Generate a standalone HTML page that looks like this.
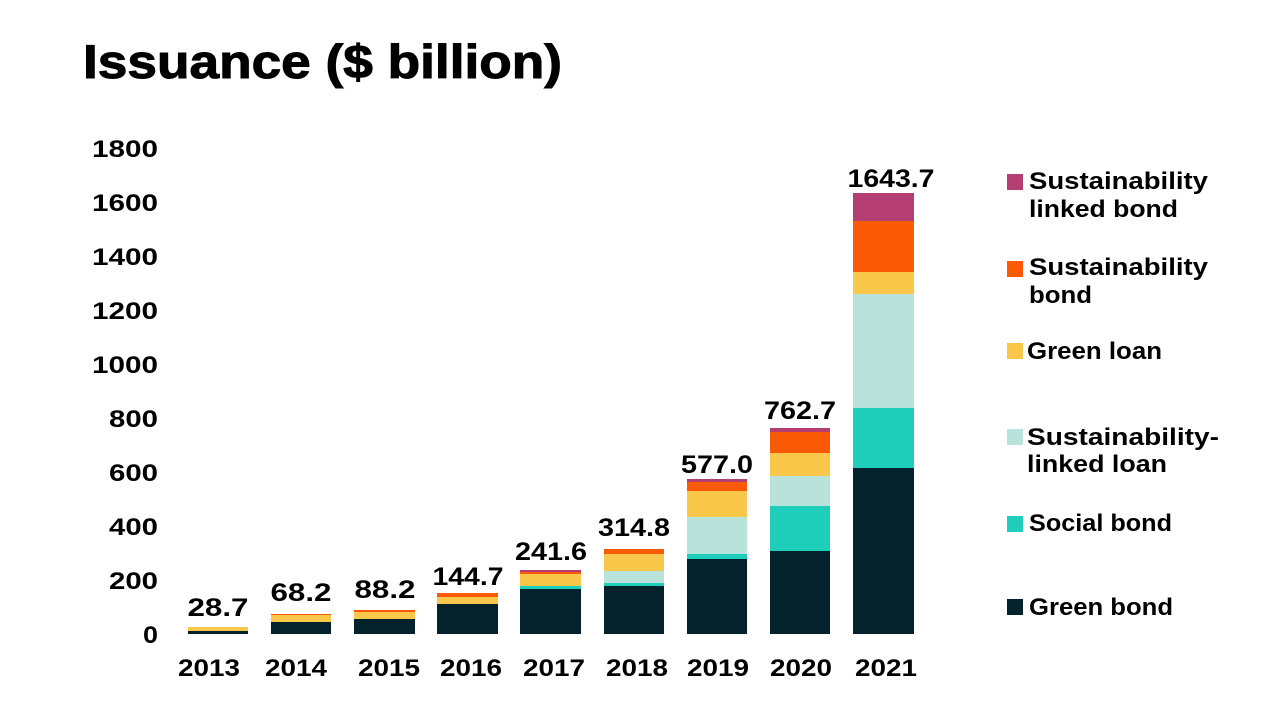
<!DOCTYPE html>
<html><head><meta charset="utf-8"><style>html,body{margin:0;padding:0;background:#fff}svg{display:block}text{font-family:"Liberation Sans",sans-serif;font-weight:bold;fill:#000}</style></head><body>
<svg width="1280" height="720" viewBox="0 0 1280 720">
<text x="83" y="78" font-size="47" textLength="479" lengthAdjust="spacingAndGlyphs" stroke="#000" stroke-width="1">Issuance ($ billion)</text>
<g font-size="24" text-anchor="end" lengthAdjust="spacingAndGlyphs">
<text x="158" y="643" textLength="15" lengthAdjust="spacingAndGlyphs">0</text><text x="158" y="589" textLength="49" lengthAdjust="spacingAndGlyphs">200</text><text x="158" y="535" textLength="49" lengthAdjust="spacingAndGlyphs">400</text><text x="158" y="481" textLength="49" lengthAdjust="spacingAndGlyphs">600</text><text x="158" y="427" textLength="49" lengthAdjust="spacingAndGlyphs">800</text><text x="158" y="373" textLength="66" lengthAdjust="spacingAndGlyphs">1000</text><text x="158" y="319" textLength="66" lengthAdjust="spacingAndGlyphs">1200</text><text x="158" y="265" textLength="66" lengthAdjust="spacingAndGlyphs">1400</text><text x="158" y="211" textLength="66" lengthAdjust="spacingAndGlyphs">1600</text><text x="158" y="157" textLength="66" lengthAdjust="spacingAndGlyphs">1800</text>
</g>
<g font-size="24" text-anchor="middle">
<text x="209" y="676" textLength="62" lengthAdjust="spacingAndGlyphs">2013</text><text x="296" y="676" textLength="62" lengthAdjust="spacingAndGlyphs">2014</text><text x="389" y="676" textLength="62" lengthAdjust="spacingAndGlyphs">2015</text><text x="471" y="676" textLength="62" lengthAdjust="spacingAndGlyphs">2016</text><text x="554" y="676" textLength="62" lengthAdjust="spacingAndGlyphs">2017</text><text x="637" y="676" textLength="62" lengthAdjust="spacingAndGlyphs">2018</text><text x="718" y="676" textLength="62" lengthAdjust="spacingAndGlyphs">2019</text><text x="801" y="676" textLength="62" lengthAdjust="spacingAndGlyphs">2020</text><text x="886" y="676" textLength="62" lengthAdjust="spacingAndGlyphs">2021</text>
</g>
<g font-size="25" text-anchor="middle">
<text x="218" y="616" textLength="61" lengthAdjust="spacingAndGlyphs">28.7</text><text x="301" y="601" textLength="61" lengthAdjust="spacingAndGlyphs">68.2</text><text x="385" y="598" textLength="61" lengthAdjust="spacingAndGlyphs">88.2</text><text x="468" y="585" textLength="71" lengthAdjust="spacingAndGlyphs">144.7</text><text x="551" y="560" textLength="72" lengthAdjust="spacingAndGlyphs">241.6</text><text x="634" y="536" textLength="72" lengthAdjust="spacingAndGlyphs">314.8</text><text x="717" y="473" textLength="72" lengthAdjust="spacingAndGlyphs">577.0</text><text x="800" y="419" textLength="72" lengthAdjust="spacingAndGlyphs">762.7</text><text x="891" y="187" textLength="87" lengthAdjust="spacingAndGlyphs">1643.7</text>
</g>
<rect x="188" y="631" width="60" height="3" fill="#03222c"/><rect x="188" y="627" width="60" height="4" fill="#f9c74a"/>
<rect x="271" y="622" width="60" height="12" fill="#03222c"/><rect x="271" y="615" width="60" height="7" fill="#f9c74a"/><rect x="271" y="614" width="60" height="1" fill="#fa5a05"/>
<rect x="354" y="619" width="61" height="15" fill="#03222c"/><rect x="354" y="612" width="61" height="7" fill="#f9c74a"/><rect x="354" y="610" width="61" height="2" fill="#fa5a05"/>
<rect x="437" y="604" width="61" height="30" fill="#03222c"/><rect x="437" y="597" width="61" height="7" fill="#f9c74a"/><rect x="437" y="593" width="61" height="4" fill="#fa5a05"/>
<rect x="520" y="589" width="61" height="45" fill="#03222c"/><rect x="520" y="586" width="61" height="3" fill="#1fcdbb"/><rect x="520" y="574" width="61" height="12" fill="#f9c74a"/><rect x="520" y="572" width="61" height="2" fill="#fa5a05"/><rect x="520" y="570" width="61" height="2" fill="#b43d72"/>
<rect x="604" y="586" width="60" height="48" fill="#03222c"/><rect x="604" y="583" width="60" height="3" fill="#1fcdbb"/><rect x="604" y="571" width="60" height="12" fill="#b9e2da"/><rect x="604" y="554" width="60" height="17" fill="#f9c74a"/><rect x="604" y="549" width="60" height="5" fill="#fa5a05"/>
<rect x="687" y="559" width="60" height="75" fill="#03222c"/><rect x="687" y="554" width="60" height="5" fill="#1fcdbb"/><rect x="687" y="517" width="60" height="37" fill="#b9e2da"/><rect x="687" y="491" width="60" height="26" fill="#f9c74a"/><rect x="687" y="482" width="60" height="9" fill="#fa5a05"/><rect x="687" y="479" width="60" height="3" fill="#b43d72"/>
<rect x="770" y="551" width="60" height="83" fill="#03222c"/><rect x="770" y="506" width="60" height="45" fill="#1fcdbb"/><rect x="770" y="476" width="60" height="30" fill="#b9e2da"/><rect x="770" y="453" width="60" height="23" fill="#f9c74a"/><rect x="770" y="432" width="60" height="21" fill="#fa5a05"/><rect x="770" y="428" width="60" height="4" fill="#b43d72"/>
<rect x="853" y="468" width="61" height="166" fill="#03222c"/><rect x="853" y="408" width="61" height="60" fill="#1fcdbb"/><rect x="853" y="294" width="61" height="114" fill="#b9e2da"/><rect x="853" y="272" width="61" height="22" fill="#f9c74a"/><rect x="853" y="221" width="61" height="51" fill="#fa5a05"/><rect x="853" y="193" width="61" height="28" fill="#b43d72"/>
<rect x="1007" y="174" width="16" height="16" fill="#b43d72"/>
<rect x="1007" y="261" width="16" height="16" fill="#fa5a05"/>
<rect x="1007" y="343" width="16" height="16" fill="#f9c74a"/>
<rect x="1007" y="429" width="16" height="16" fill="#b9e2da"/>
<rect x="1007" y="516" width="16" height="16" fill="#1fcdbb"/>
<rect x="1007" y="599" width="16" height="16" fill="#03222c"/>
<g font-size="24">
<text x="1029" y="189" textLength="179" lengthAdjust="spacingAndGlyphs">Sustainability</text><text x="1029" y="217" textLength="149" lengthAdjust="spacingAndGlyphs">linked bond</text>
<text x="1029" y="275" textLength="179" lengthAdjust="spacingAndGlyphs">Sustainability</text><text x="1029" y="303" textLength="63" lengthAdjust="spacingAndGlyphs">bond</text>
<text x="1027" y="359" textLength="135" lengthAdjust="spacingAndGlyphs">Green loan</text>
<text x="1027" y="445" textLength="192" lengthAdjust="spacingAndGlyphs">Sustainability-</text><text x="1027" y="472" textLength="140" lengthAdjust="spacingAndGlyphs">linked loan</text>
<text x="1029" y="531" textLength="143" lengthAdjust="spacingAndGlyphs">Social bond</text>
<text x="1029" y="615" textLength="144" lengthAdjust="spacingAndGlyphs">Green bond</text>
</g>
</svg>
</body></html>
